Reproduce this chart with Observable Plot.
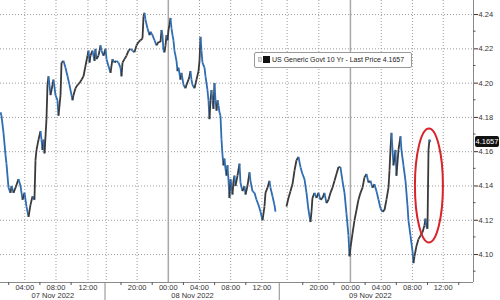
<!DOCTYPE html>
<html><head><meta charset="utf-8">
<script src="https://cdn.jsdelivr.net/npm/d3@7"></script>
<script src="https://cdn.jsdelivr.net/npm/@observablehq/plot@0.6"></script>
<style>
html,body{margin:0;padding:0;background:#fff;}
#chart{position:relative;width:500px;height:300px;overflow:hidden;background:#fff;}
</style></head><body><div id="chart"></div>
<script>
// chart time in trading hours (non-trading gaps compressed), day 1 00:00 = 0
const hours = [
0.89,1.01,1.27,1.53,1.65,1.91,2.17,2.30,2.55,2.81,
3.19,3.45,3.71,3.96,4.22,4.48,4.73,4.99,5.24,5.37,
5.50,5.76,6.01,6.14,6.27,6.40,6.53,6.78,6.91,7.04,
7.30,7.55,7.68,7.94,8.19,8.32,8.58,8.71,8.96,9.22,
9.48,9.73,9.99,10.12,10.24,10.50,10.76,11.01,11.27,11.53,
11.78,12.04,12.17,12.30,12.42,12.68,12.94,13.06,13.19,13.45,
13.58,13.71,13.83,14.09,14.35,14.48,14.73,14.99,15.24,15.50,
15.76,16.01,16.27,16.40,16.53,16.78,17.04,17.30,17.55,17.81,
18.06,18.32,18.58,18.83,19.09,19.22,19.35,19.47,19.73,19.99,
20.12,20.37,20.63,20.89,21.14,21.40,21.53,21.65,21.78,21.91,
22.04,22.17,22.30,22.42,22.55,22.68,22.81,22.94,23.06,23.19,
23.45,23.58,23.71,23.96,24.09,24.35,24.60,24.73,24.99,25.12,
25.24,25.37,25.50,25.76,26.01,26.27,26.40,26.53,26.65,26.78,
27.04,27.17,27.42,27.55,27.68,27.81,27.94,28.06,28.19,28.32,
28.45,28.58,28.71,28.83,28.96,29.09,29.22,29.35,29.47,29.60,
29.73,29.86,29.99,30.12,30.24,30.37,30.50,30.63,30.76,30.88,
31.01,31.27,31.53,31.65,31.91,32.17,32.30,32.55,32.81,32.94,
33.19,33.45,33.71,33.96,34.22,34.48,34.73,34.86,35.12,35.37,
35.50,35.76,36.01,36.14,
37.55,37.81,38.06,38.32,38.58,38.83,39.09,39.35,39.60,39.86,
40.12,40.37,40.63,40.76,40.88,41.14,41.40,41.65,41.91,42.17,
42.42,42.68,42.94,43.19,43.45,43.71,43.96,44.22,44.47,44.73,
44.99,45.24,45.50,45.63,45.76,46.01,46.27,46.53,46.78,47.04,
47.30,47.55,47.81,48.06,48.32,48.58,48.83,49.09,49.35,49.60,
49.86,50.12,50.37,50.63,50.76,50.88,51.01,51.27,51.53,51.65,
51.91,52.17,52.29,52.55,52.81,53.06,53.19,53.45,53.71,53.83,
53.96,54.22,54.47,54.73,54.99,55.24,55.37,55.50,55.63,55.76,
55.88,56.01
];
const yields = [
4.183,4.181,4.171,4.158,4.153,4.139,4.136,4.140,4.136,4.139,
4.144,4.140,4.132,4.136,4.128,4.122,4.129,4.134,4.132,4.155,
4.161,4.167,4.172,4.167,4.161,4.167,4.159,4.179,4.199,4.204,
4.193,4.199,4.202,4.193,4.190,4.181,4.193,4.212,4.213,4.209,
4.204,4.199,4.193,4.190,4.193,4.197,4.199,4.200,4.202,4.204,
4.210,4.216,4.219,4.212,4.216,4.219,4.213,4.220,4.214,4.216,
4.219,4.222,4.219,4.216,4.220,4.214,4.210,4.206,4.214,4.212,
4.213,4.212,4.209,4.204,4.212,4.214,4.216,4.219,4.220,4.219,
4.218,4.222,4.224,4.225,4.226,4.239,4.241,4.237,4.232,4.228,
4.230,4.228,4.225,4.222,4.224,4.224,4.231,4.228,4.219,4.218,
4.222,4.228,4.225,4.231,4.234,4.238,4.232,4.228,4.225,4.219,
4.213,4.207,4.209,4.202,4.206,4.199,4.197,4.199,4.202,4.204,
4.207,4.202,4.199,4.197,4.202,4.207,4.213,4.227,4.219,4.212,
4.209,4.204,4.196,4.190,4.179,4.190,4.196,4.190,4.185,4.200,
4.190,4.184,4.190,4.187,4.183,4.181,4.167,4.158,4.152,4.156,
4.150,4.146,4.152,4.143,4.133,4.144,4.140,4.135,4.143,4.146,
4.140,4.146,4.153,4.142,4.137,4.140,4.135,4.140,4.148,4.143,
4.137,4.136,4.132,4.129,4.125,4.120,4.128,4.136,4.139,4.143,
4.139,4.134,4.129,4.125,
4.128,4.133,4.137,4.141,4.149,4.155,4.157,4.151,4.147,4.144,
4.136,4.126,4.119,4.125,4.133,4.136,4.133,4.136,4.132,4.133,
4.136,4.130,4.132,4.136,4.139,4.143,4.147,4.151,4.151,4.143,
4.136,4.124,4.111,4.099,4.104,4.112,4.120,4.126,4.132,4.136,
4.139,4.145,4.147,4.142,4.143,4.139,4.141,4.137,4.132,4.127,
4.125,4.126,4.132,4.139,4.149,4.161,4.171,4.152,4.161,4.146,
4.161,4.169,4.161,4.152,4.143,4.129,4.120,4.111,4.102,4.095,
4.099,4.105,4.109,4.111,4.113,4.117,4.121,4.116,4.115,4.161,
4.167,4.1657
];
const yTicks = [4.10, 4.12, 4.14, 4.16, 4.18, 4.20, 4.22, 4.24];
const yMinorTicks = [4.09, 4.11, 4.13, 4.15, 4.17, 4.19, 4.21, 4.23];
const timeTickHours = [4, 8, 12.1, 18.4, 22.4, 26.4, 30.4, 34.4, 41.7, 45.75, 49.7, 53.7, 57.65];
const timeTickLabels = ["04:00","08:00","12:00","20:00","00:00","04:00","08:00","12:00","20:00","00:00","04:00","08:00","12:00"];
const minorTimeHours = [2, 6, 10, 16.4, 20.4, 24.4, 28.4, 32.4, 39.7, 43.7, 47.7, 51.7, 55.7, 59.7];
const extraGridHours = [14.44, 37.64];
const midnightHours = [22.4, 45.75];
const sessionBreakHours = [14.35, 36.69];
const dateLabels = ["07 Nov 2022", "08 Nov 2022", "09 Nov 2022"];
const dateHours = [7.6, 25.5, 48.3];
const seriesName = "US Generic Govt 10 Yr - Last Price";
const lastPrice = 4.1657;
const highlightHour = 55.88, highlightValue = 4.140;
const xDomain = [0.885, 61.53];
const yDomain = [4.0837, 4.2482];

// build rows & segments
const rows = hours.map((h, i) => ({h, v: yields[i]}));
const segs = [];
for (let i = 1; i < rows.length; i++) {
  const a = rows[i-1], b = rows[i];
  if (b.h - a.h > 1) continue;
  segs.push({x1: a.h, y1: a.v, x2: b.h, y2: b.v, up: b.v >= a.v});
}
const labelMap = new Map(timeTickHours.map((h, i) => [h, timeTickLabels[i]]));

const font = "'Liberation Sans', Arial, sans-serif";
const plot = Plot.plot({
  width: 500, height: 300,
  marginLeft: 0, marginRight: 27, marginTop: 0, marginBottom: 18,
  style: {fontFamily: font, fontSize: "7.5px", color: "#333", background: "#fff", overflow: "visible"},
  x: {type: "linear", domain: xDomain, ticks: timeTickHours, tickFormat: d => labelMap.get(d) ?? "", tickSize: 0, tickPadding: 2.5, label: null},
  y: {domain: yDomain, axis: "right", ticks: yTicks, tickFormat: d => d.toFixed(2), tickSize: 4, tickPadding: 1, label: null},
  marks: [
    Plot.ruleY(yTicks, {stroke: "#9c9c9c", strokeDasharray: "1,2"}),
    Plot.ruleX([...timeTickHours.filter(h => !midnightHours.includes(h)), ...extraGridHours], {stroke: "#9c9c9c", strokeDasharray: "1,2"}),
    Plot.ruleX(midnightHours, {stroke: "#a8a8a8", strokeWidth: 1.5}),
    Plot.link(segs, {x1: "x1", y1: "y1", x2: "x2", y2: "y2", stroke: d => d.up ? "#3a3a3a" : "#2f6db3", strokeWidth: 1.8}),
    Plot.ruleY([yDomain[0]], {stroke: "#8a8a8a"}),
    Plot.ruleX([xDomain[1]], {stroke: "#8a8a8a"}),
    Plot.text(dateLabels, {x: (d, i) => dateHours[i], y: () => yDomain[0], text: d => d, dy: 13, fill: "#333", fontSize: 7.5})
  ]
});
document.getElementById("chart").appendChild(plot);

// annotations via plot scales
const svgEl = plot.tagName.toLowerCase() === "svg" ? plot : plot.querySelector("svg");
const svg = d3.select(svgEl);
const mk = s => s && s.apply ? (v => s.apply(v)) : d3.scaleLinear(s.domain, s.range);
const X = mk(plot.scale("x")), Y = mk(plot.scale("y"));
const yBase = Y(yDomain[0]), xRight = X(xDomain[1]);
const g = svg.append("g").attr("text-anchor", "start");
// minor x ticks
minorTimeHours.forEach(h => g.append("line").attr("x1", X(h)).attr("x2", X(h)).attr("y1", yBase).attr("y2", yBase + 3).attr("stroke", "#555"));
// minor y ticks
yMinorTicks.forEach(v => g.append("line").attr("x1", xRight).attr("x2", xRight + 2.5).attr("y1", Y(v)).attr("y2", Y(v)).attr("stroke", "#555"));
// session separators in axis band
sessionBreakHours.forEach(h => g.append("line").attr("x1", X(h)).attr("x2", X(h)).attr("y1", yBase).attr("y2", 300).attr("stroke", "#8a8a8a"));
// red highlight ellipse
g.append("ellipse").attr("cx", X(highlightHour)).attr("cy", Y(highlightValue)).attr("rx", 14).attr("ry", 57)
  .attr("fill", "none").attr("stroke", "#d8232a").attr("stroke-width", 2);
// last price tag
const ty = Y(lastPrice);
g.append("rect").attr("x", xRight + 2).attr("y", ty - 5.5).attr("width", 24).attr("height", 11).attr("rx", 2).attr("fill", "#111");
g.append("text").attr("x", xRight + 14).attr("y", ty).attr("dy", "0.35em").attr("text-anchor", "middle")
  .attr("fill", "#fff").attr("font-size", 7.5).attr("font-family", font).text(lastPrice.toFixed(4));
// legend box
const lg = g.append("g").attr("transform", "translate(254,52)");
lg.append("rect").attr("x", 0.5).attr("y", 0.5).attr("width", 157).attr("height", 15).attr("rx", 1.5).attr("fill", "#fff").attr("stroke", "#999");
lg.append("rect").attr("x", 4.5).attr("y", 5.5).attr("width", 3).attr("height", 4).attr("fill", "#ddd").attr("stroke", "#aaa").attr("stroke-width", 0.7);
lg.append("rect").attr("x", 9).attr("y", 4).attr("width", 7).attr("height", 7).attr("fill", "#111");
lg.append("text").attr("x", 18).attr("y", 8).attr("dy", "0.35em").attr("text-anchor", "start").attr("fill", "#222").attr("font-size", 7).attr("font-family", font)
  .text(seriesName + " " + lastPrice.toFixed(4));
</script></body></html>
